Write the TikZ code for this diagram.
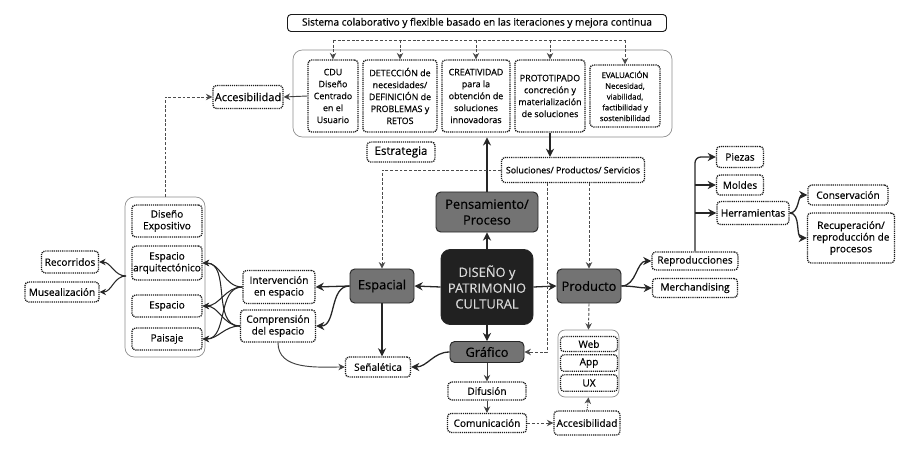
\documentclass[tikz,border=0pt]{standalone}
\usepackage{fontspec}
\setmainfont{Open Sans}[FakeBold=0.35]
\usetikzlibrary{calc}
\usetikzlibrary{arrows.meta}

\begin{document}
\begin{tikzpicture}[x=0.03cm,y=-0.03cm,
  box/.style={draw=black!90, line width=1.1pt, dash pattern=on 1pt off 0.8pt, rounded corners=3pt, align=center, inner sep=1pt, fill=white, font=\fontsize{8.6}{10}\selectfont},
  inbox/.style={box, minimum height=2.16cm, font=\fontsize{7.6}{10.2}\selectfont},
  grp/.style={draw=black!45, line width=0.6pt, rounded corners=8pt},
  main/.style={draw=black!85, line width=0.8pt, fill=black!55, rounded corners=4pt, align=center, inner sep=1pt, font=\fontsize{11}{13.5}\selectfont},
  arr/.style={-{Stealth[length=7pt,width=7pt]}, line width=1.1pt, black!85},
  arrs/.style={-{Stealth[length=5.5pt,width=5.5pt]}, line width=0.8pt, black!75},
  dsh/.style={-{Stealth[length=5.5pt,width=5.5pt]}, line width=0.8pt, black!70, dash pattern=on 2.5pt off 1.5pt},
]
\useasboundingbox (0,0) rectangle (901,455);

% top: strategy
\node[box, solid, line width=0.8pt, minimum width=11.37cm, minimum height=0.51cm, font=\fontsize{8.6}{10}\selectfont] (title) at (477,23) {Sistema colaborativo y flexible basado en las iteraciones y mejora continua};
\node[grp, minimum width=11.37cm, minimum height=2.61cm] (estr) at (482.5,93.5) {};
\node[inbox, minimum width=1.5cm] (cdu) at (333,96) {CDU\\Diseño\\Centrado\\en el\\Usuario};
\node[inbox, minimum width=2.22cm] (det) at (400,96) {DETECCIÓN de\\necesidades/\\DEFINICIÓN de\\PROBLEMAS y\\RETOS};
\node[inbox, minimum width=2.04cm] (cre) at (476,96) {CREATIVIDAD\\para la\\obtención de\\soluciones\\innovadoras};
\node[inbox, minimum width=2.1cm] (pro) at (550,96) {PROTOTIPADO\\concreción y\\materialización\\de soluciones};
\node[inbox, minimum width=2.1cm, minimum height=1.86cm, font=\fontsize{6.6}{9.2}\selectfont] (eva) at (625,96) {EVALUACIÓN\\Necesidad,\\viabilidad,\\factibilidad y\\sostenibilidad};
\node[box, minimum width=2.04cm, minimum height=0.6cm, font=\fontsize{9.8}{11}\selectfont] (estrlbl) at (401,152) {Estrategia};
\node[box, minimum width=4.29cm, minimum height=0.75cm, font=\fontsize{7.6}{9}\selectfont] (sol) at (573,170) {Soluciones/ Productos/ Servicios};
\node[box, minimum width=2.1cm, minimum height=0.69cm, font=\fontsize{9.4}{11}\selectfont] (acc1) at (248,97) {Accesibilidad};

% centre
\node[main, minimum width=3.06cm, minimum height=1.2cm] (pens) at (487,212) {Pensamiento/\\Proceso};
\node[main, fill=black!87, text=white!85!black, rounded corners=8pt, minimum width=2.76cm, minimum height=2.25cm] (core) at (487,287) {DISEÑO y\\PATRIMONIO\\CULTURAL};
\node[main, minimum width=1.92cm, minimum height=1.02cm] (esp) at (382,286) {Espacial};
\node[main, minimum width=1.92cm, minimum height=1.02cm] (prod) at (589,286) {Producto};
\node[main, minimum width=2.22cm, minimum height=0.63cm] (graf) at (487,352) {Gráfico};
\node[box, minimum width=1.95cm, minimum height=0.6cm] (senal) at (378,367) {Señalética};
\node[box, minimum width=2.34cm, minimum height=0.54cm] (dif) at (487,391) {Difusión};
\node[box, minimum width=2.37cm, minimum height=0.57cm] (comun) at (487,423) {Comunicación};
\node[box, minimum width=1.98cm, minimum height=0.72cm] (acc2) at (587,423) {Accesibilidad};
\node[grp, rounded corners=6pt, minimum width=1.83cm, minimum height=2.01cm] (digi) at (588.5,363.5) {};
\node[box, minimum width=1.71cm, minimum height=0.45cm] (web) at (589,344) {Web};
\node[box, minimum width=1.71cm, minimum height=0.5cm] (app) at (589,363) {App};
\node[box, minimum width=1.71cm, minimum height=0.5cm] (ux) at (589,383) {UX};

% left: espacial
\node[box, minimum width=2.16cm, minimum height=0.99cm] (interv) at (279,287) {Intervención\\en espacio};
\node[box, minimum width=2.25cm, minimum height=0.96cm] (compr) at (278,326) {Comprensión\\del espacio};
\node[grp, minimum width=2.4cm, minimum height=4.8cm] (lgrp) at (165,277) {};
\node[box, minimum width=2.1cm, minimum height=0.96cm] (expo) at (167,221) {Diseño\\Expositivo};
\node[box, minimum width=2.1cm, minimum height=1.02cm] (arq) at (167,263) {Espacio\\arquitectónico};
\node[box, minimum width=2.1cm, minimum height=0.66cm] (espa) at (167,306) {Espacio};
\node[box, minimum width=2.1cm, minimum height=0.66cm] (pais) at (167,339) {Paisaje};
\node[box, minimum width=1.71cm, minimum height=0.66cm] (reco) at (70,262) {Recorridos};
\node[box, minimum width=2.22cm, minimum height=0.6cm] (muse) at (62,292) {Musealización};

% right: producto
\node[box, minimum width=2.58cm, minimum height=0.54cm] (repro) at (695,261) {Reproducciones};
\node[box, minimum width=2.55cm, minimum height=0.57cm] (merch) at (695,288) {Merchandising};
\node[box, minimum width=1.41cm, minimum height=0.63cm] (piez) at (740,157) {Piezas};
\node[box, minimum width=1.41cm, minimum height=0.6cm] (mold) at (740,185) {Moldes};
\node[box, minimum width=2.16cm, minimum height=0.69cm] (herr) at (753,213) {Herramientas};
\node[box, minimum width=2.4cm, minimum height=0.6cm] (cons) at (848,195) {Conservación};
\node[box, minimum width=2.61cm, minimum height=1.5cm] (recu) at (851,238) {Recuperación/\\reproducción de\\procesos};

% iteration loop
\coordinate (topL) at (333,40);
\coordinate (topR) at (625,40);
\draw[dsh, -] (topL) -- (topR);
\foreach \n in {cdu,det,cre,pro,eva}
  \draw[dsh] (\n.north |- topL) -- (\n.north);

% centre arrows
\draw[arr] (core.north) -- (pens.south);
\draw[arr] (core.west) -- (esp.east);
\draw[arr] (core.east) -- (prod.west);
\draw[arr] (core.south) -- (graf.north);
\draw[arr] (pens.north) -- (pens.north |- estr.south);
\draw[arr] (pro.south) -- (pro.south |- sol.north);
\draw[arrs] (cdu.west) -- (acc1.east);
\draw[dsh] (lgrp.north) |- (acc1.west);

% soluciones
\coordinate (solB) at (547,183);
\draw[dsh] (sol.west) -| (esp.north);
\draw[dsh] (solB) |- (graf.east);
\draw[dsh] (prod.north |- sol.south) -- (prod.north);

% grafico
\draw[arr] (esp.south) -- (esp.south |- senal.north);
\draw[arr] (graf.west) to[out=180,in=0] (senal.east);
\draw[arrs] (compr.south) to[out=-90,in=180] (senal.west);
\draw[arrs] (graf.south) -- (dif.north);
\draw[arrs] (dif.south) -- (comun.north);
\draw[dsh] (comun.east) -- (acc2.west);
\draw[dsh, dash pattern=on 1pt off 1pt] (acc2.north) -- (digi.south);
\draw[dsh] (prod.south) -- (digi.north);

% espacial
\draw[arr] (esp.west) -- (interv.east);
\draw[arr] (esp.west) to[out=180,in=0] (compr.east);
\foreach \s in {interv,compr}
  \foreach \t in {arq,espa,pais}
    \draw[arrs, black!85, line width=0.9pt] (\s.west) to[out=180,in=0] (\t.east);
\coordinate (arqL) at (126,276);
\draw[arrs, black!85, line width=0.9pt] (arqL) to[out=180,in=0] (reco.east);
\draw[arrs, black!85, line width=0.9pt] (arqL) to[out=180,in=0] (muse.east);

% producto
\draw[arr] (prod.east) to[out=0,in=180] (repro.west);
\draw[arr] (prod.east) to[out=0,in=180] (merch.west);
\draw[arr, rounded corners=5pt] (repro.north) |- (piez.west);
\draw[arr] (repro.north |- mold.west) -- (mold.west);
\draw[arr] (repro.north |- herr.west) -- (herr.west);
\draw[arr] (herr.east) to[out=0,in=180] (cons.west);
\draw[arr] (herr.east) to[out=0,in=180] (recu.west);
\end{tikzpicture}
\end{document}
